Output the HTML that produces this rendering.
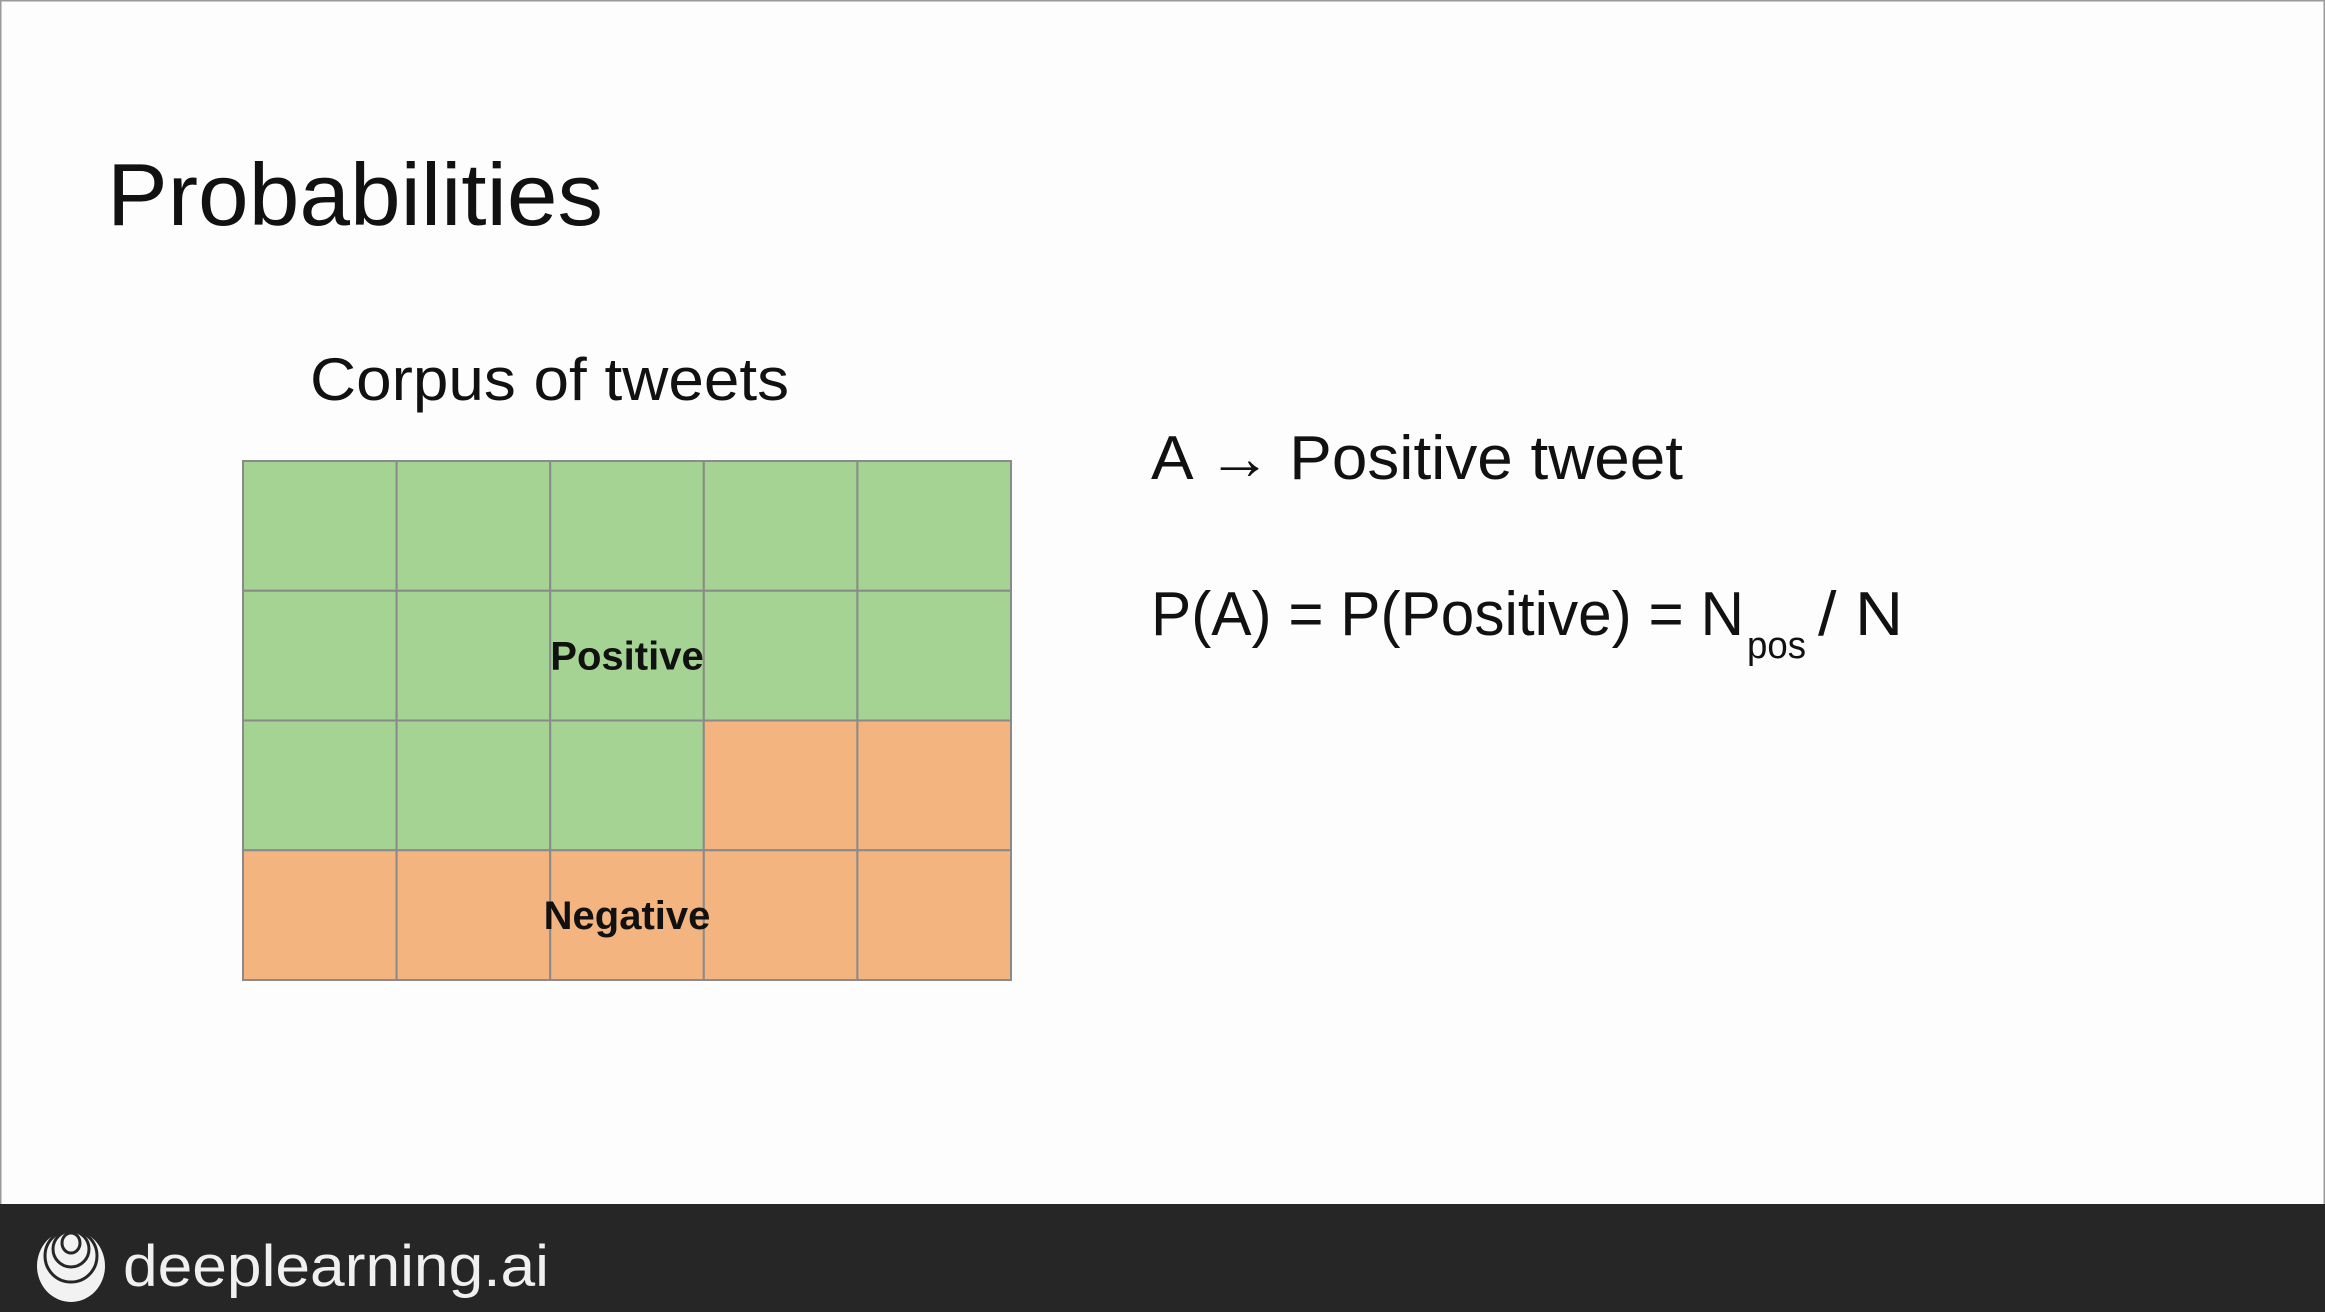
<!DOCTYPE html>
<html><head><meta charset="utf-8"><style>
html,body{margin:0;padding:0;background:#fff;}
svg{display:block;}
text{font-family:"Liberation Sans",sans-serif;}
</style></head><body>
<svg id="s" width="2325" height="1312" viewBox="0 0 2325 1312">
<rect x="0" y="0" width="2325" height="1312" fill="#fdfdfd" stroke="#9a9a9a" stroke-width="3"/>
<text x="107" y="225" font-size="88" fill="#111" textLength="496" lengthAdjust="spacingAndGlyphs">Probabilities</text>
<text x="310" y="400" font-size="60" fill="#111" textLength="479" lengthAdjust="spacingAndGlyphs">Corpus of tweets</text>
<g id="grid"></g>
<text x="1151" y="479" font-size="62" fill="#111" textLength="532" lengthAdjust="spacingAndGlyphs">A → Positive tweet</text>
<text x="1151" y="635" font-size="62" fill="#111" textLength="593" lengthAdjust="spacingAndGlyphs">P(A) = P(Positive) = N</text>
<text x="1747" y="658" font-size="38" fill="#111" textLength="59" lengthAdjust="spacingAndGlyphs">pos</text>
<text x="1818" y="635" font-size="62" fill="#111" textLength="85" lengthAdjust="spacingAndGlyphs">/ N</text>
<rect x="0" y="1204" width="2325" height="108" fill="#262626"/>
<g>
<ellipse cx="71" cy="1266" rx="34" ry="36" fill="#f2f2f2"/>
<ellipse cx="71" cy="1256" rx="26" ry="26" fill="none" stroke="#262626" stroke-width="3"/>
<ellipse cx="71" cy="1249" rx="18" ry="18" fill="none" stroke="#262626" stroke-width="3"/>
<ellipse cx="71" cy="1243" rx="9" ry="10" fill="none" stroke="#262626" stroke-width="3"/>
</g>
<text x="123" y="1286" font-size="58" fill="#f0f0f0" textLength="426" lengthAdjust="spacingAndGlyphs">deeplearning.ai</text>
</svg>
<script>
const cols = 5;
const rows = 4;
const cellLabels = [
 "pos","pos","pos","pos","pos",
 "pos","pos","pos","pos","pos",
 "pos","pos","pos","neg","neg",
 "neg","neg","neg","neg","neg"];
const classColors = {pos:"#a5d393", neg:"#f3b47f"};
const classNames = ["Positive","Negative"];
const gLeft = 243, gTop = 461, gRight = 1011, gBottom = 980;
const cw = (gRight-gLeft)/cols, ch = (gBottom-gTop)/rows;
const xPos = c => gLeft + c*cw;
const yPos = r => gTop + r*ch;
const NS = "http://www.w3.org/2000/svg";
const g = document.getElementById("grid");
cellLabels.forEach((lab,i)=>{
  const r = Math.floor(i/cols), c = i%cols;
  const rect = document.createElementNS(NS,"rect");
  rect.setAttribute("x", xPos(c)); rect.setAttribute("y", yPos(r));
  rect.setAttribute("width", cw); rect.setAttribute("height", ch);
  rect.setAttribute("fill", classColors[lab]);
  rect.setAttribute("stroke", "#8a8a8a"); rect.setAttribute("stroke-width", "2");
  
  
  g.appendChild(rect);
});
const labelRows = [1.5, 3.5];
classNames.forEach((name,k)=>{
  const t = document.createElementNS(NS,"text");
  t.setAttribute("x", xPos(2.5)); t.setAttribute("y", yPos(labelRows[k]) + 14);
  t.setAttribute("text-anchor","middle"); t.setAttribute("font-size","40");
  t.setAttribute("font-weight","bold"); t.setAttribute("fill","#111");
  t.textContent = name;
  
  
  g.appendChild(t);
});
</script>
</body></html>
